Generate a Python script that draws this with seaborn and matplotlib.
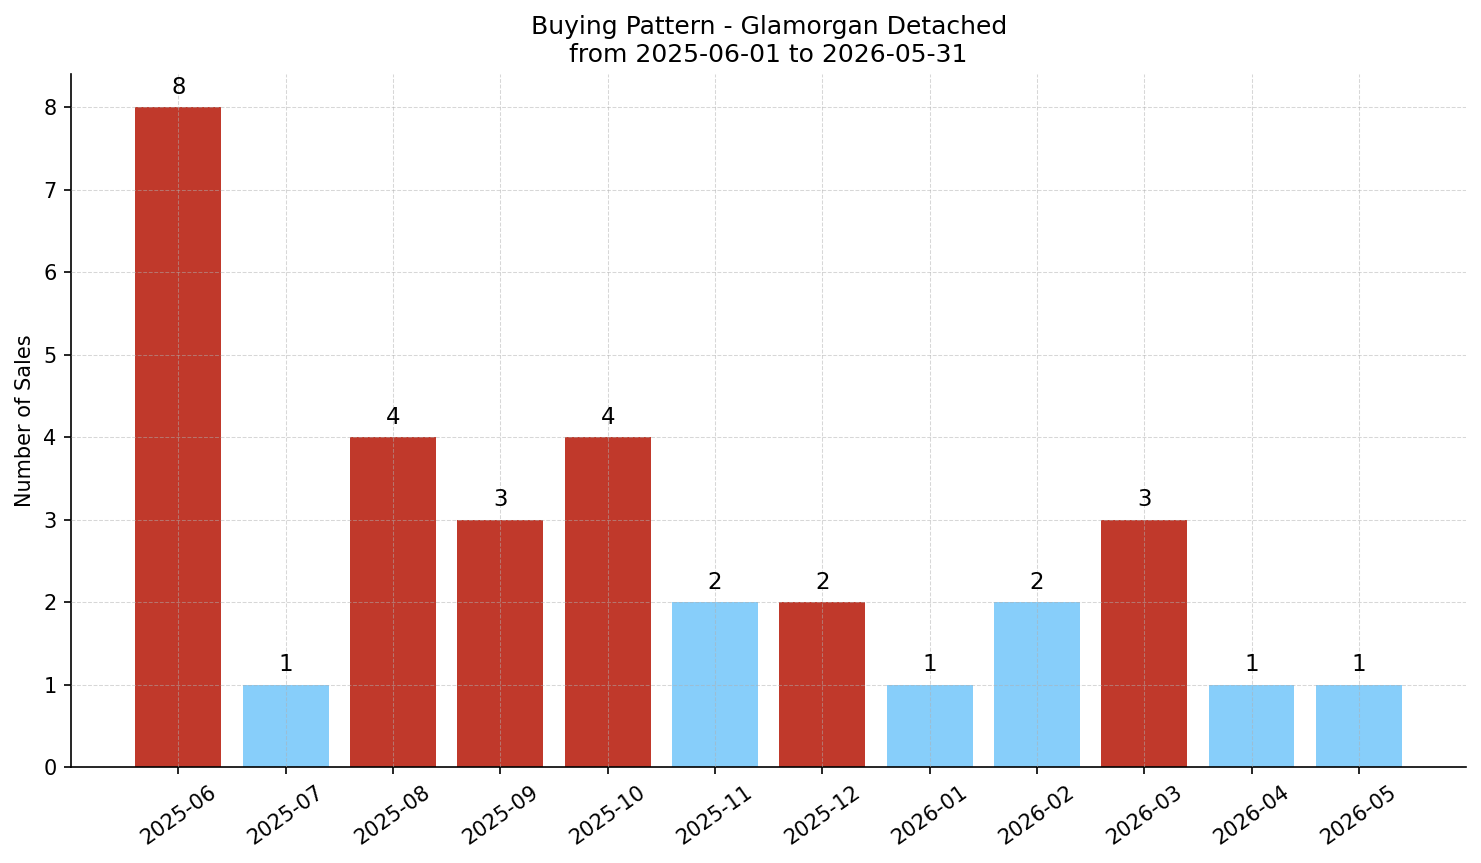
import pandas as pd
import matplotlib
matplotlib.use("Agg")
import matplotlib.pyplot as plt
import seaborn as sns

# data
months = ['2025-06', '2025-07', '2025-08', '2025-09', '2025-10', '2025-11',
          '2025-12', '2026-01', '2026-02', '2026-03', '2026-04', '2026-05']
sales = [8, 1, 4, 3, 4, 2, 2, 1, 2, 3, 1, 1]
highlight = [True, False, True, True, True, False, True, False, False, True, False, False]

RED = '#c0392b'
BLUE = '#87cefa'

df = pd.DataFrame({'month': months, 'sales': sales, 'highlight': highlight})
bar_colors = [RED if h else BLUE for h in df['highlight']]

plt.rcParams['font.family'] = ['DejaVu Sans']

fig, ax = plt.subplots(figsize=(1481 / 150, 863 / 150), dpi=150)
sns.barplot(data=df, x='month', y='sales', hue='month', palette=bar_colors,
            legend=False, width=0.8, saturation=1, linewidth=0, ax=ax)

for i, v in enumerate(df['sales']):
    ax.text(i, v + 0.1, str(v), ha='center', va='bottom', fontsize=11)

ax.set_xlim(-1, len(months))
ax.set_ylim(0, max(sales) * 1.05)
ax.set_xlabel('')
ax.set_ylabel('Number of Sales', fontsize=10)
ax.set_title('Buying Pattern - Glamorgan Detached\nfrom 2025-06-01 to 2026-05-31', fontsize=12)
ax.tick_params(axis='x', rotation=35, labelsize=10)
ax.tick_params(axis='y', labelsize=10)
ax.grid(True, linestyle='--', linewidth=0.5, color='#b0b0b0', alpha=0.5)
ax.set_axisbelow(False)
sns.despine(ax=ax)

fig.subplots_adjust(left=0.048, right=0.99, top=0.914, bottom=0.111)
plt.savefig('out.png', dpi=150)
